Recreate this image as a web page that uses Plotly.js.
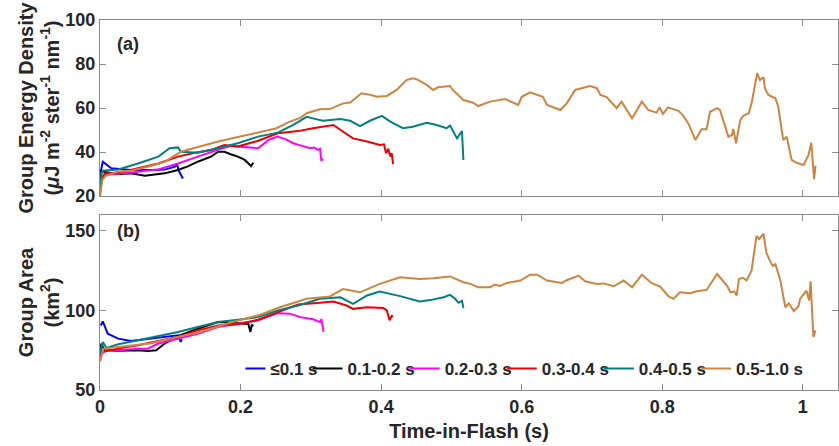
<!DOCTYPE html>
<html>
<head>
<meta charset="utf-8">
<script src="https://cdn.plot.ly/plotly-3.0.1.min.js"></script>
<style>html,body{margin:0;padding:0;background:#fff;}#chart{width:839px;height:446px;}</style>
</head>
<body>
<div id="chart"></div>
<script>
// Series labels
const seriesNames = ['\u22640.1 s', '0.1-0.2 s', '0.2-0.3 s', '0.3-0.4 s', '0.4-0.5 s', '0.5-1.0 s'];

// Panel (a): Group energy density (uJ m^-2 ster^-1 nm^-1) vs time-in-flash (s)
const tE1 = [0.001,0.004,0.016,0.044,0.073,0.092,0.106,0.110,0.112,0.118];
const E1  = [31,35.6,32.6,31.8,31.8,32,33.3,34.1,31.5,28];
const tE2 = [0,0.002,0.006,0.016,0.03,0.044,0.064,0.08,0.092,0.111,0.125,0.139,0.158,0.168,0.177,0.186,0.196,0.206,0.215,0.218];
const E2  = [24,31.5,31,30.3,30,30.3,29.2,29.8,30.3,31.8,33.5,35.6,37.9,40.1,40.1,39,37.9,36.4,33.6,35.1];
const tE3 = [0,0.003,0.007,0.026,0.054,0.083,0.111,0.139,0.158,0.172,0.186,0.206,0.225,0.24,0.252,0.263,0.275,0.285,0.299,0.305,0.310,0.313,0.315,0.317];
const E3  = [21,28,29.5,30,31,32.1,34.8,37.9,40.1,41.5,42.7,42.2,41.7,45.5,47,46,44,43,41.7,42,41,41.5,36,37];
const tE4 = [0,0.003,0.007,0.026,0.054,0.083,0.111,0.135,0.158,0.177,0.196,0.225,0.253,0.282,0.303,0.332,0.346,0.360,0.380,0.398,0.404,0.407,0.410,0.413,0.415,0.417];
const E4  = [22,28.5,30.3,30.6,32.6,34.8,37.9,39.7,40.9,43.2,42.5,45.1,48.5,49.5,50.8,52.3,49.2,46.2,44.8,43.2,43.5,39.4,41.5,38,39.5,34.5];
const tE5 = [0,0.002,0.004,0.026,0.054,0.083,0.099,0.111,0.115,0.139,0.168,0.196,0.225,0.253,0.275,0.294,0.303,0.317,0.342,0.356,0.370,0.384,0.401,0.413,0.431,0.445,0.465,0.479,0.493,0.498,0.508,0.515,0.517];
const E5  = [22,30,31.5,32.1,34.8,37.9,41.7,42.1,40.1,39.7,41.7,44,47,48.8,52.3,56,55.3,54.2,55,54.2,51.8,54.2,56.4,53.8,50.8,51.5,53.3,52.3,50.8,52,46.2,49.5,36.4];
const tE6 = [0,0.003,0.007,0.024,0.044,0.071,0.092,0.115,0.142,0.171,0.209,0.251,0.270,0.285,0.294,0.313,0.327,0.346,0.356,0.372,0.384,0.394,0.408,0.422,0.436,0.445,0.451,0.465,0.474,0.481,0.498,0.502,0.517,0.531,0.538,0.555,0.576,0.595,0.600,0.612,0.630,0.636,0.655,0.664,0.676,0.686,0.697,0.707,0.712,0.721,0.735,0.742,0.757,0.771,0.780,0.792,0.796,0.801,0.808,0.823,0.830,0.837,0.847,0.856,0.863,0.868,0.878,0.882,0.889,0.894,0.899,0.901,0.905,0.911,0.915,0.923,0.927,0.935,0.939,0.944,0.946,0.951,0.961,0.965,0.972,0.977,0.984,0.991,1.001,1.008,1.012,1.016,1.018];
const E6  = [20,27,29,31,31.5,33.5,35.5,40.1,42.5,45,47.7,50.8,53.8,55.5,57.6,59.4,59.5,62.1,62.5,66.7,66,65.1,65.5,68.2,72.7,73.5,73,70.5,68.2,69.4,70,68.2,63.6,62.4,60.9,62.9,64.1,61.4,65.1,67.1,65.1,61.4,59.1,62.1,68.2,69.2,70,69,65.9,65,59.9,62.9,55.3,62.9,59.1,57.9,60.3,57.3,60.3,58.7,56.4,53,45.5,50.3,50.3,58.3,59.9,59.1,51.5,47,47.6,50.5,44,54.5,56.4,57.6,62.1,75.8,72.7,74,69,65.9,64.4,60.6,45.5,47,36.4,35.1,34.1,38.6,44.2,27.7,33.8];

// Panel (b): Group area (km^2) vs time-in-flash (s)
const tA1 = [0.001,0.004,0.011,0.026,0.044,0.073,0.092,0.111,0.115,0.116];
const A1  = [90.6,93.1,85.4,82.3,80.8,82.3,83.3,84.4,80.2,82];
const tA2 = [0,0.002,0.006,0.026,0.054,0.068,0.080,0.092,0.111,0.139,0.168,0.196,0.211,0.214,0.216,0.218];
const A2  = [72,79.2,75,74.6,75,74.5,75,79.2,83.8,88.5,92.7,92.1,91.5,86.5,91,90];
const tA3 = [0,0.002,0.011,0.026,0.054,0.068,0.083,0.111,0.139,0.168,0.196,0.225,0.253,0.270,0.285,0.303,0.313,0.315,0.318];
const A3  = [71,72.9,75.5,75,76,76,79.2,82.3,85.4,89.6,91.7,93.8,98.3,98,95.8,94.5,92.7,94.5,86.5];
const tA4 = [0,0.004,0.026,0.054,0.083,0.111,0.139,0.168,0.196,0.225,0.253,0.282,0.313,0.332,0.351,0.360,0.380,0.403,0.408,0.412,0.415,0.417];
const A4  = [70,74,76,78.1,80.8,83.3,87.5,90.6,91.3,94.2,98.9,103.8,104.8,105.6,103.1,101,102,101.5,100,93.8,96.5,96.3];
const tA5 = [0,0.002,0.004,0.009,0.026,0.054,0.083,0.111,0.139,0.168,0.196,0.225,0.253,0.282,0.313,0.342,0.360,0.380,0.398,0.427,0.455,0.470,0.489,0.498,0.505,0.510,0.515,0.517];
const A5  = [72.9,77,80.2,76.5,78.8,81.3,83.8,86.5,89.6,92.7,94.2,95.8,100,103.1,107.3,108.3,104.2,109.4,111.9,109,105.6,106.5,108.3,109.8,107.5,104.8,106,101.5];
const tA6 = [0,0.002,0.005,0.026,0.071,0.107,0.142,0.189,0.228,0.256,0.294,0.327,0.346,0.370,0.398,0.427,0.455,0.474,0.498,0.517,0.527,0.538,0.555,0.562,0.569,0.579,0.598,0.612,0.622,0.636,0.657,0.664,0.681,0.690,0.707,0.716,0.731,0.745,0.757,0.771,0.785,0.797,0.809,0.816,0.825,0.840,0.849,0.863,0.878,0.892,0.897,0.902,0.906,0.909,0.915,0.920,0.927,0.934,0.938,0.944,0.948,0.953,0.957,0.961,0.968,0.975,0.980,0.987,0.994,0.996,1.005,1.009,1.011,1.015,1.018];
const A6  = [68,70.8,76,77,79.2,83,86.5,92.7,97.3,102,107.3,108.8,113.5,111.4,116.7,120.8,119.8,120.2,121.4,117.7,116.7,114.6,114.6,116.3,115.4,117.3,118.8,122.5,122.5,118.8,117.3,119,121.9,118.3,116.7,117,115.2,118.8,114.6,122.5,117.1,115,108.8,107.3,111.4,110.8,112.1,112.9,122.9,115.6,111.4,112,109.4,119.8,120.5,118.8,125,146.9,144.8,148.3,136.4,131.3,128,129,118.8,102,104.5,99.6,103,107.3,112.5,106.3,118.3,83.3,87.5];

// Axis ticks
const xTicks = [0, 0.2, 0.4, 0.6, 0.8, 1];
const xTickText = ['0', '0.2', '0.4', '0.6', '0.8', '1'];
const yTicksE = [20, 40, 60, 80, 100];
const yTicksA = [50, 100, 150];

const colors = ['#0000ff', '#000000', '#ff00ff', '#ee0000', '#008080', '#cd853f'];
const tE = [tE1, tE2, tE3, tE4, tE5, tE6];
const vE = [E1, E2, E3, E4, E5, E6];
const tA = [tA1, tA2, tA3, tA4, tA5, tA6];
const vA = [A1, A2, A3, A4, A5, A6];

const FONT = 'Arial, "Liberation Sans", sans-serif';
const TXT = '#262626';
const AX = '#8c8c8c';
const titleFont = {family: FONT, size: 20, color: TXT, weight: 'bold'};
const labFont = {family: FONT, size: 18, color: TXT, weight: 'bold'};
const legFont = {family: FONT, size: 17, color: TXT, weight: 'bold'};

const traces = [];
for (let i = 0; i < 6; i++) {
  traces.push({x: tA[i], y: vA[i], xaxis: 'x', yaxis: 'y', type: 'scatter', mode: 'lines',
    name: seriesNames[i], line: {color: colors[i], width: 2}, showlegend: true});
}
for (let i = 0; i < 6; i++) {
  traces.push({x: tE[i], y: vE[i], xaxis: 'x2', yaxis: 'y2', type: 'scatter', mode: 'lines',
    name: seriesNames[i], line: {color: colors[i], width: 2}, showlegend: false});
}

const axCommon = {showline: true, linecolor: AX, linewidth: 1, mirror: 'ticks', ticks: 'inside',
  ticklen: 6, tickcolor: AX, showgrid: false, zeroline: false, tickfont: labFont};

const layout = {
  width: 839, height: 446,
  margin: {l: 100, r: 1, t: 20, b: 56},
  paper_bgcolor: '#fff', plot_bgcolor: '#fff',
  font: {family: FONT, color: TXT},
  showlegend: true,
  xaxis: Object.assign({}, axCommon, {domain: [0, 1], range: [0, 1.05], anchor: 'y',
    tickvals: xTicks, ticktext: xTickText,
    title: {text: 'Time-in-Flash (s)', font: titleFont, standoff: 8}}),
  xaxis2: Object.assign({}, axCommon, {domain: [0, 1], range: [0, 1.05], anchor: 'y2', matches: 'x',
    tickvals: xTicks, showticklabels: false}),
  yaxis: Object.assign({}, axCommon, {domain: [0, 0.473], range: [50, 160], anchor: 'x',
    tickvals: yTicksA,
    title: {text: 'Group Area<br>(km<sup>2</sup>)', font: titleFont, standoff: 0}}),
  yaxis2: Object.assign({}, axCommon, {domain: [0.5243, 1], range: [20, 100], anchor: 'x2',
    tickvals: yTicksE,
    title: {text: 'Group Energy Density<br>(<i>\u03bc</i>J m<sup>-2</sup> ster<sup>-1</sup> nm<sup>-1</sup>)', font: titleFont, standoff: 0}}),
  legend: {orientation: 'h', x: 0.197, xanchor: 'left', y: 0.057, yanchor: 'middle',
    bgcolor: 'rgba(0,0,0,0)', borderwidth: 0, indentation: -15, itemwidth: 30,
    font: legFont, tracegroupgap: 0},
  annotations: [
    {text: '(a)', xref: 'paper', yref: 'paper', x: 0.02, y: 0.935, xanchor: 'left', yanchor: 'middle',
      showarrow: false, font: labFont},
    {text: '(b)', xref: 'paper', yref: 'paper', x: 0.02, y: 0.43, xanchor: 'left', yanchor: 'middle',
      showarrow: false, font: labFont}
  ]
};

Plotly.newPlot('chart', traces, layout, {displayModeBar: false, staticPlot: true});
</script>
</body>
</html>
